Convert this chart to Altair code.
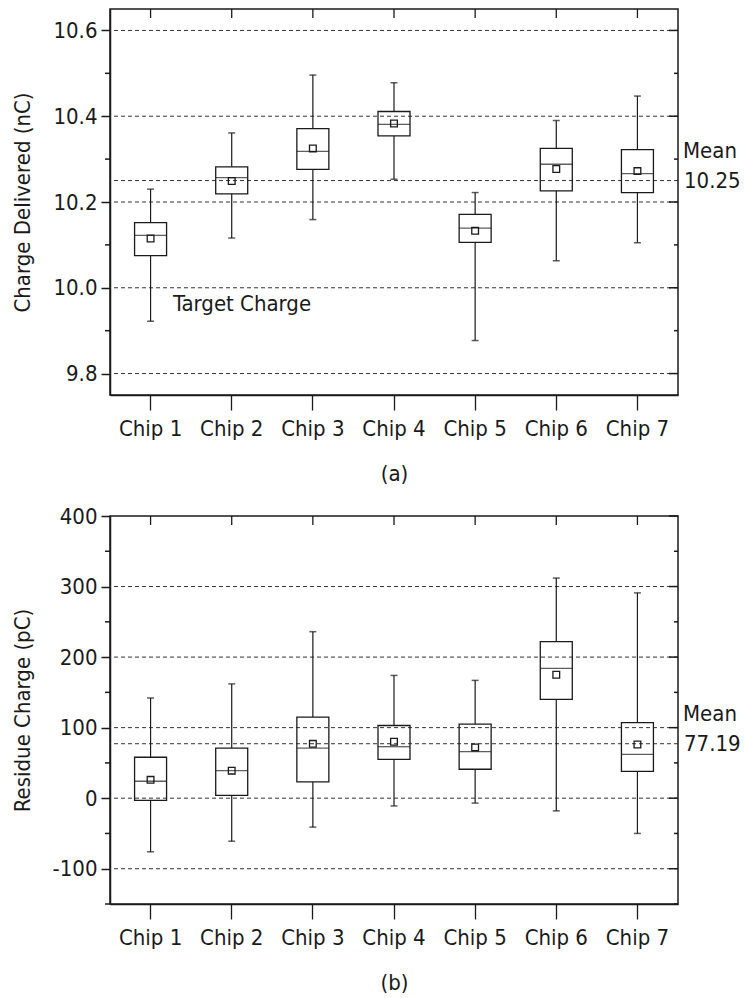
import altair as alt
import pandas as pd

FONT = "DejaVu Sans Condensed"
INK = "#1a1a1a"
FS = 22

chips = ["Chip 1", "Chip 2", "Chip 3", "Chip 4", "Chip 5", "Chip 6", "Chip 7"]

# Panel (a): charge delivered (nC)
a_low = [9.922, 10.116, 10.159, 10.253, 9.877, 10.063, 10.105]
a_q1 = [10.075, 10.219, 10.276, 10.354, 10.106, 10.226, 10.222]
a_med = [10.122, 10.257, 10.318, 10.381, 10.139, 10.288, 10.266]
a_q3 = [10.152, 10.282, 10.371, 10.411, 10.171, 10.325, 10.322]
a_high = [10.230, 10.361, 10.496, 10.478, 10.222, 10.390, 10.447]
a_mean = [10.115, 10.249, 10.325, 10.383, 10.133, 10.277, 10.272]
a_major = [9.8, 10.0, 10.2, 10.4, 10.6]
a_minor = [9.9, 10.1, 10.3, 10.5]
a_grid = [9.8, 10.0, 10.2, 10.4, 10.6]
a_mean_all = 10.25
a_mean_label = "10.25"

# Panel (b): residue charge (pC)
b_low = [-76, -61, -41, -11, -7, -18, -50]
b_q1 = [-3, 4, 23, 55, 41, 140, 38]
b_med = [24, 39, 71, 73, 66, 184, 62]
b_q3 = [58, 71, 115, 103, 105, 222, 107]
b_high = [142, 162, 236, 174, 167, 312, 291]
b_mean = [26, 39, 77, 80, 72, 175, 76]
b_major = [-100, 0, 100, 200, 300, 400]
b_minor = [-150, -50, 50, 150, 250, 350]
b_grid = [-100, 0, 100, 200, 300]
b_mean_all = 77.19
b_mean_label = "77.19"

W = 568
BOXW = 32


def panel(low, q1, med, q3, high, mean, domain, major, minor, grid, mval, mlabel,
          ytitle, xtitle, height, lexpr, target=None):
    df = pd.DataFrame({"chip": chips, "low": low, "q1": q1, "med": med,
                       "q3": q3, "high": high, "mean": mean})
    ysc = alt.Scale(domain=domain, nice=False, zero=False)
    xsc = alt.Scale(domain=chips, paddingInner=0, paddingOuter=0)
    xaxis = alt.Axis(title=xtitle, labelAngle=0, tickSize=15, tickColor=INK,
                     tickWidth=1.3, domainColor=INK, domainWidth=1.5,
                     labelPadding=8, titlePadding=24, labelFontSize=FS,
                     titleFontSize=FS, labelColor=INK, titleColor=INK,
                     titleFontWeight="normal", labelFont=FONT, titleFont=FONT)
    xenc = alt.X("chip:N", scale=xsc, sort=chips, axis=xaxis)
    yaxis = alt.Axis(
        title=ytitle, values=major, labelExpr=lexpr, tickSize=9, tickColor=INK, tickWidth=1.5,
        domainColor=INK, domainWidth=1.5, labelPadding=4, titlePadding=18,
        labelFontSize=FS, titleFontSize=FS, labelColor=INK, titleColor=INK,
        titleFontWeight="normal", grid=False, labelFont=FONT, titleFont=FONT)

    def Y(field):
        return alt.Y(field, scale=ysc, axis=yaxis)

    base = alt.Chart(df)

    gdf = pd.DataFrame({"v": grid + [mval]})
    gridl = alt.Chart(gdf).mark_rule(strokeDash=[4, 3], color="#333333", strokeWidth=1).encode(
        y=Y("v:Q"))

    wl = base.mark_rule(color=INK, strokeWidth=1.2).encode(
        x=xenc, y=Y("low:Q"), y2="q1:Q")
    wh = base.mark_rule(color=INK, strokeWidth=1.2).encode(
        x=xenc, y=Y("q3:Q"), y2="high:Q")
    cap_l = base.mark_tick(size=7, thickness=1.5, color=INK).encode(
        x=xenc, y=Y("low:Q"))
    cap_h = base.mark_tick(size=7, thickness=1.5, color=INK).encode(
        x=xenc, y=Y("high:Q"))
    box = base.mark_bar(size=BOXW, fill="white", fillOpacity=0, stroke=INK,
                        strokeWidth=1.3).encode(
        x=xenc, y=Y("q1:Q"), y2="q3:Q")
    medl = base.mark_tick(size=BOXW, thickness=1.3, color=INK).encode(
        x=xenc, y=Y("med:Q"))
    meanp = base.mark_point(shape="square", size=45, filled=False, color=INK,
                            strokeWidth=1.3, opacity=1).encode(
        x=xenc, y=Y("mean:Q"))

    mndf = pd.DataFrame({"v": minor})
    mjdf = pd.DataFrame({"v": major})
    lminor = alt.Chart(mndf).mark_rule(color=INK, strokeWidth=1.5).encode(
        y=Y("v:Q"), x=alt.value(-5), x2=alt.value(0))
    rminor = alt.Chart(mndf).mark_rule(color=INK, strokeWidth=1.5).encode(
        y=Y("v:Q"), x=alt.value(W - 4), x2=alt.value(W))
    rmajor = alt.Chart(mjdf).mark_rule(color=INK, strokeWidth=1.5).encode(
        y=Y("v:Q"), x=alt.value(W - 9), x2=alt.value(W))
    topt = base.mark_rule(color=INK, strokeWidth=1.3).encode(
        x=xenc, y=alt.value(0), y2=alt.value(9))

    tdf = pd.DataFrame({"v": [mval], "l1": ["Mean"], "l2": [mlabel]})
    t1 = alt.Chart(tdf).mark_text(align="left", baseline="middle", dy=-30, fontSize=FS,
                                  font=FONT, color=INK).encode(
        x=alt.value(W + 5), y=Y("v:Q"), text="l1:N")
    t2 = alt.Chart(tdf).mark_text(align="left", baseline="middle", dy=0, fontSize=FS,
                                  font=FONT, color=INK).encode(
        x=alt.value(W + 6), y=Y("v:Q"), text="l2:N")

    layers = [gridl, box, wl, wh, cap_l, cap_h, medl, meanp, lminor, rminor, rmajor, topt, t1, t2]
    if target is not None:
        trdf = pd.DataFrame({"v": [target[0]], "l": [target[1]]})
        layers.append(alt.Chart(trdf).mark_text(align="left", baseline="middle", dy=16,
                                                fontSize=FS, font=FONT, color=INK).encode(
            x=alt.value(63), y=Y("v:Q"), text="l:N"))
    return alt.layer(*layers).properties(width=W, height=height)


top = panel(a_low, a_q1, a_med, a_q3, a_high, a_mean, [9.75, 10.65], a_major, a_minor,
            a_grid, a_mean_all, a_mean_label, "Charge Delivered (nC)", "(a)", 386,
            "format(datum.value, '.1f')", target=(10.0, "Target Charge"))
bot = panel(b_low, b_q1, b_med, b_q3, b_high, b_mean, [-150, 400], b_major, b_minor,
            b_grid, b_mean_all, b_mean_label, "Residue Charge (pC)", "(b)", 388,
            "'' + datum.value")

chart = alt.vconcat(top, bot, spacing=19).properties(
    padding={"left": 10, "top": 7, "right": 0, "bottom": 0},
    background="white",
).configure_view(stroke=INK, strokeWidth=1.5)

chart.save("out.html", embed_options={"renderer": "svg", "actions": False})
